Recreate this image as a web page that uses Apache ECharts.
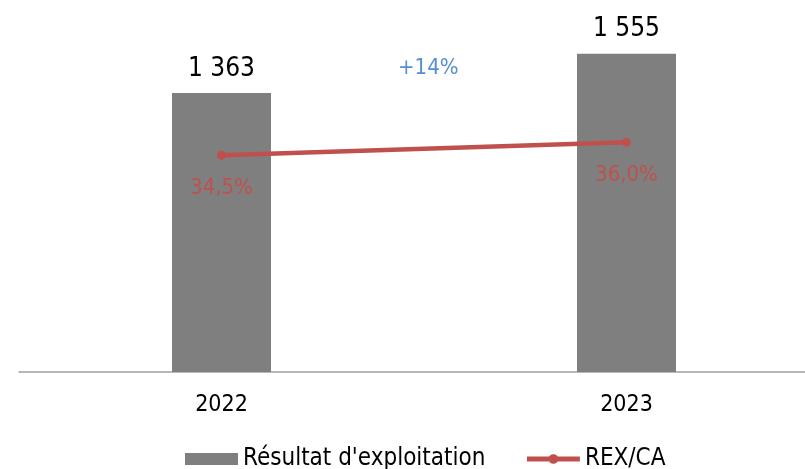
<!DOCTYPE html>
<html>
<head>
<meta charset="utf-8">
<script src="https://cdn.jsdelivr.net/npm/echarts@6/dist/echarts.min.js"></script>
<style>
  html, body { margin: 0; padding: 0; background: #fff; overflow: hidden; }
  #chart { width: 829px; height: 469px; }
</style>
</head>
<body>
<div id="chart"></div>
<script>
// données
const years = ['2022', '2023']
const rex = [1363, 1555] // Résultat d'exploitation
const rexCa = [34.5, 36.0] // REX/CA en %
const growthLabel = '+14%'

const font = 'DejaVu Sans Condensed'
const chart = echarts.init(document.getElementById('chart'))

const fmtThousands = (v) => String(v).replace(/\B(?=(\d{3})+(?!\d))/g, ' ')

chart.setOption({
  animation: false,
  grid: { left: 19, right: 0, top: 24, bottom: 97 },
  legend: {
    left: 180,
    top: 442,
    itemWidth: 53,
    itemHeight: 12,
    itemGap: 39,
    textStyle: { fontFamily: font, fontSize: 24, color: '#000' },
    data: [
      { name: "Résultat d'exploitation", icon: 'rect' },
      { name: 'REX/CA', lineStyle: { width: 5 } }
    ]
  },
  xAxis: {
    type: 'category',
    data: years,
    axisLine: { lineStyle: { color: '#a0a0a0', width: 1.5 } },
    axisTick: { show: false },
    axisLabel: { fontFamily: font, fontSize: 23, color: '#000', margin: 22 }
  },
  yAxis: [
    { type: 'value', min: 0, max: 1700, show: false, splitLine: { show: false } },
    { type: 'value', min: 9.6, max: 49.6, show: false, splitLine: { show: false } }
  ],
  series: [
    {
      name: "Résultat d'exploitation",
      type: 'bar',
      data: rex,
      barWidth: 99,
      itemStyle: { color: '#7f7f7f' },
      label: {
        show: true,
        position: 'top',
        distance: 11,
        fontFamily: font,
        fontSize: 26,
        color: '#000',
        formatter: (p) => fmtThousands(p.value)
      }
    },
    {
      name: 'REX/CA',
      type: 'line',
      yAxisIndex: 1,
      data: rexCa,
      symbol: 'circle',
      symbolSize: 9,
      lineStyle: { color: '#c0504d', width: 4.5 },
      itemStyle: { color: '#c0504d' },
      label: {
        show: true,
        position: 'bottom',
        distance: 17,
        fontFamily: font,
        fontSize: 22,
        color: '#c0504d',
        formatter: (p) => p.value.toFixed(1).replace('.', ',') + '%'
      }
    }
  ],
  graphic: [
    {
      type: 'text',
      left: 398,
      top: 57,
      style: { text: growthLabel, fontFamily: font, fontSize: 22, fill: '#558ed5' }
    }
  ]
})
</script>
</body>
</html>
